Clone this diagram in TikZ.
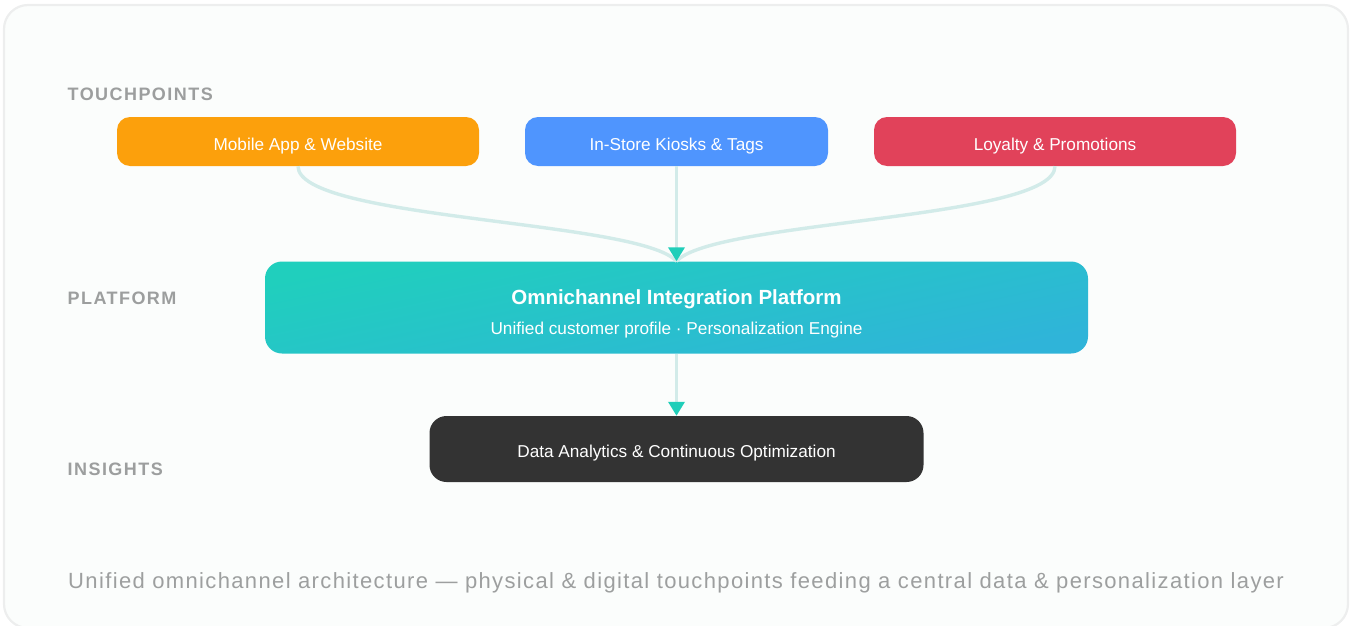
\documentclass[tikz,border=0pt]{standalone}
\usepackage{fontspec}
\setmainfont{Liberation Sans}
\newfontfamily\lblfont[LetterSpace=8,Ligatures=NoCommon]{Liberation Sans}
\newfontfamily\capfont[LetterSpace=6.2,Ligatures=NoCommon]{Liberation Sans}
\usetikzlibrary{arrows.meta}
\definecolor{cardbg}{HTML}{FBFDFC}
\definecolor{cardline}{HTML}{EDEEEE}
\definecolor{lblgrey}{HTML}{9C9E9E}
\definecolor{capgrey}{HTML}{9D9F9F}
\definecolor{orangebox}{HTML}{FCA00C}
\definecolor{bluebox}{HTML}{4F95FE}
\definecolor{redbox}{HTML}{E1425A}
\definecolor{darkbox}{HTML}{333333}
\definecolor{gradA}{HTML}{20CFBD}
\definecolor{gradB}{HTML}{2FB4D9}
\definecolor{linkc}{HTML}{D2EBE9}
\definecolor{tipc}{HTML}{20CEB9}
\tikzset{
  x=1pt,y=-1pt,
  boxn/.style={rounded corners=#1,minimum height=0pt,inner sep=0pt,text=white,align=center},
  lbl/.style={anchor=base west,inner sep=0pt,text=lblgrey,font=\fontsize{18}{20}\selectfont\lblfont\bfseries},
  boxtext/.style={anchor=base,inner sep=0pt,text=white,font=\fontsize{17.2}{20}\selectfont},
  link/.style={draw=linkc,line width=3.4pt},
  tiplink/.style={link,-{Triangle[length=14pt,width=16pt,color=tipc]}},
}
\begin{document}
\begin{tikzpicture}
\useasboundingbox (0,0) rectangle (1351,626);
\begin{scope}
\clip (0,0) rectangle (1351,626);
\draw[fill=cardbg,draw=cardline,line width=2.2pt,rounded corners=24pt] (4,5) rectangle (1348,628);
\end{scope}

\node[lbl] (l1) at (67.5,100) {TOUCHPOINTS};
\node[lbl] (l2) at (67.5,304) {PLATFORM};
\node[lbl] (l3) at (67.5,475) {INSIGHTS};

\node[boxn=13pt,fill=orangebox,minimum width=362pt,minimum height=49pt] (mobile) at (298,141.5) {};
\node[boxn=13pt,fill=bluebox,minimum width=303pt,minimum height=49pt] (kiosk) at (676.5,141.5) {};
\node[boxn=13pt,fill=redbox,minimum width=362pt,minimum height=49pt] (loyal) at (1055,141.5) {};
\node[boxn=17pt,top color=gradA,bottom color=gradB,shading angle=12,minimum width=823pt,minimum height=92pt] (plat) at (676.5,307.5) {};
\node[boxn=17pt,fill=darkbox,minimum width=494pt,minimum height=66pt] (data) at (676.5,449) {};

\node[boxtext] (t1) at (298,150) {Mobile App \& Website};
\node[boxtext] (t2) at (676.5,150) {In-Store Kiosks \& Tags};
\node[boxtext] (t3) at (1055,150) {Loyalty \& Promotions};
\node[anchor=base,inner sep=0pt,text=white,font=\fontsize{20.5}{24}\selectfont\bfseries] (t4) at (676.5,304) {Omnichannel Integration Platform};
\node[boxtext] (t5) at (676.5,334) {Unified customer profile · Personalization Engine};
\node[boxtext] (t6) at (676.5,457) {Data Analytics \& Continuous Optimization};

\node[anchor=base west,inner sep=0pt,text=capgrey,font=\fontsize{22}{26}\selectfont\capfont] (cap) at (68,588) {Unified omnichannel architecture — physical \& digital touchpoints feeding a central data \& personalization layer};

\draw[link] (mobile.south) .. controls (298,220) and (640,220) .. (plat.north);
\draw[link] (loyal.south) .. controls (1055,220) and (713,220) .. (plat.north);
\draw[tiplink] (kiosk.south) -- (plat.north);
\draw[tiplink] (plat.south) -- (data.north);
\end{tikzpicture}
\end{document}
